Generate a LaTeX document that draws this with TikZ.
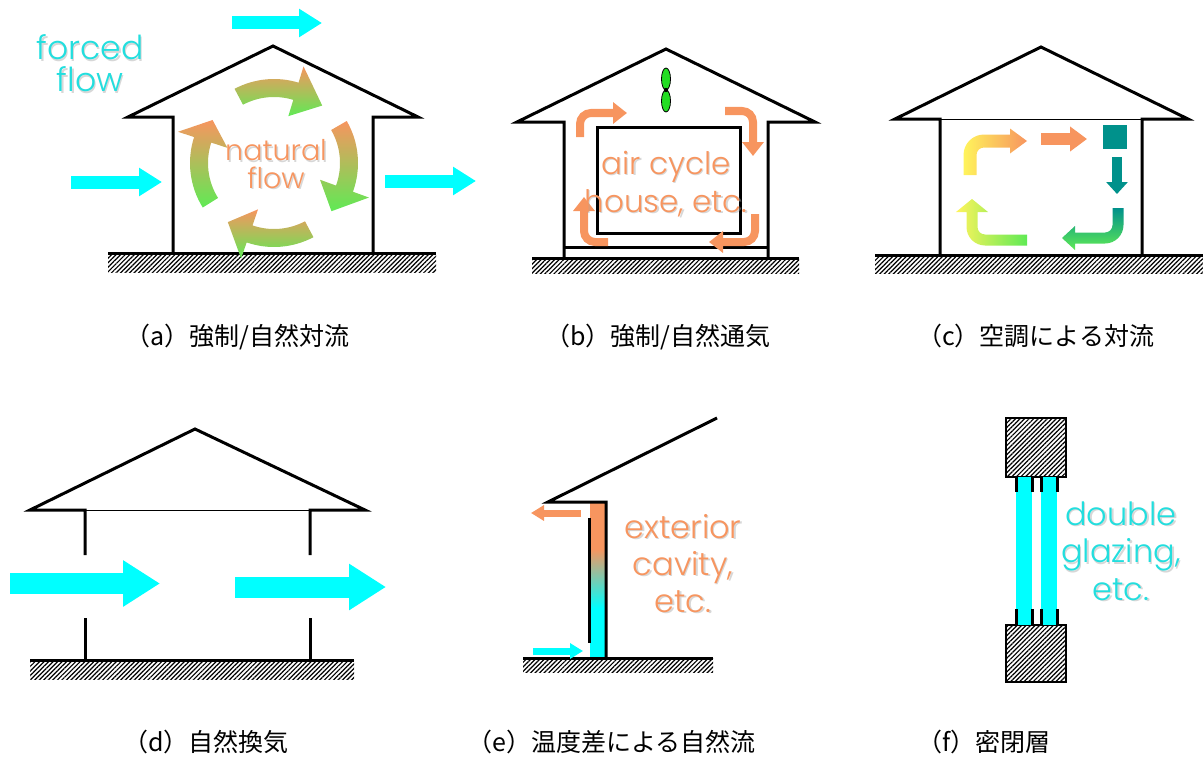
\documentclass[tikz,border=0pt]{standalone}
\usepackage{fontspec}
\newfontfamily\lat{Poppins Light}
\newfontfamily\jp{Noto Sans CJK JP}
\usetikzlibrary{arrows.meta,patterns.meta,calc}

% Couleurs des flux
\definecolor{flux}{HTML}{00FFFF}
\definecolor{fluxtxt}{HTML}{22DEDE}
\definecolor{chaud}{HTML}{F7955F}
\definecolor{tiede}{HTML}{C2D85E}
\definecolor{vert}{HTML}{5FEA55}
\definecolor{sarcelle}{HTML}{00918B}
\definecolor{jaune}{HTML}{FFF45C}
\definecolor{helice}{HTML}{22DD22}

% Dégradé de la lame d'air (du bas vers le haut)
\pgfdeclareverticalshading{cavite}{100bp}{color(0bp)=(flux); color(41bp)=(flux); color(60bp)=(chaud); color(100bp)=(chaud)}

% Sol hachuré : x1, x2, y haut, y bas
\newcommand{\terrain}[4]{%
  \fill[sol] (#1,-#3) rectangle (#2,-#4);
  \draw[mur] (#1,-#3) -- (#2,-#3);}

% Flèche courbe du tourbillon : queue, base de la pointe, pointe (angles)
\newcommand{\tourbillon}[3]{%
  \shade[top color=chaud, middle color=tiede, bottom color=vert]
    ([shift={(#1:84)}]tourb) arc[start angle=#1, end angle=#2, radius=84]
    -- ([shift={(#2:101)}]tourb) -- ([shift={(#3:75)}]tourb) -- ([shift={(#2:49)}]tourb)
    -- ([shift={(#2:66)}]tourb) arc[start angle=#2, end angle=#1, radius=66] -- cycle;}

% Texte avec ombre portée
\newcommand{\etiquette}[5][]{%
  \node[etiq, #1, text=black!35, opacity=.45, xshift=1.5pt, yshift=-1.5pt] at (#3) {#5};
  \node[etiq, #1, text=#4] (#2) at (#3) {#5};}

\begin{document}
\begin{tikzpicture}[
    x=1pt, y=1pt,
    mur/.style={line width=3pt, line join=miter},
    plafond/.style={line width=1pt},
    sol/.style={pattern={Lines[angle=45,distance=3.2pt,line width=1.2pt]}},
    flechebleue/.style={draw=flux, line width=13pt, -{Triangle[length=23pt,width=27pt]}},
    grossefleche/.style={draw=flux, line width=21pt, -{Triangle[length=37pt,width=44pt]}},
    circuit/.style={draw=chaud, line width=8pt, rounded corners=11pt, -{Triangle[length=14pt,width=21pt]}},
    petitefleche/.style={line width=7pt, -{Triangle[length=13pt,width=15pt]}},
    legende/.style={font=\jp\fontsize{25}{25}\selectfont, anchor=base west, inner sep=0pt},
    etiq/.style={font=\lat, align=center, anchor=base, inner sep=0pt} % base = dernière ligne
]
\useasboundingbox (0,0) rectangle (1203,-760);

% (a) convection forcée / naturelle
\draw[mur] (173,-253) -- (173,-117) -- (128,-117) -- (273,-46) -- (418,-117) -- (373,-117) -- (373,-253);
\terrain{108}{436}{253}{272}
\draw[flechebleue] (232,-23) -- (322,-23);
\draw[flechebleue] (71,-182) -- (162,-182);
\draw[flechebleue] (385,-181) -- (476,-181);
\coordinate (tourb) at (274,-163);
\tourbillon{118}{73}{50}
\tourbillon{30}{-20}{-40}
\tourbillon{-62}{-109}{-128}
\tourbillon{-148}{-198}{-215}
\etiquette[font=\lat\fontsize{33}{32}\selectfont]{force}{90,-92}{fluxtxt}{forced\\flow}
\etiquette[font=\lat\fontsize{28.5}{27.5}\selectfont]{naturel}{276,-188}{chaud}{natural\\flow}

% (b) ventilation forcée / naturelle
\draw[mur] (564,-258) -- (564,-122) -- (517,-122) -- (666,-49) -- (815,-122) -- (768,-122) -- (768,-258);
\draw[mur] (564,-247) -- (768,-247);
\draw[mur] (597,-127) rectangle (740,-233);
\terrain{532}{799}{258}{273}
\draw[fill=helice, line width=.8pt] (666,-79) ellipse[x radius=4.5, y radius=11];
\draw[fill=helice, line width=.8pt] (666,-101) ellipse[x radius=4.5, y radius=11];
\fill (666,-90) circle[radius=2.2];
\draw[circuit] (580,-137) |- (627,-113);
\draw[circuit] (725,-111) -| (753,-156);
\draw[circuit] (755,-214) |- (709,-242);
\draw[circuit] (608,-242) -| (584,-197);
\etiquette[font=\lat\fontsize{31}{38}\selectfont]{aircycle}{666,-212}{chaud}{air cycle\\house, etc.}

% (c) convection par climatisation
\draw[mur] (940,-255) -- (940,-119) -- (895,-119) -- (1041,-47) -- (1188,-119) -- (1142,-119) -- (1142,-255);
\draw[plafond] (940,-119) -- (1142,-119);
\terrain{875}{1203}{255}{273}
\shade[left color=jaune, right color=chaud]
  (963.5,-175) -- (963.5,-155) arc[start angle=180, end angle=90, radius=20.5]
  -- (1010,-134.5) -- (1010,-128.5) -- (1027,-141) -- (1010,-153.5) -- (1010,-147.5)
  -- (984,-147.5) arc[start angle=90, end angle=180, radius=7.5] -- (976.5,-175) -- cycle;
\draw[chaud, line width=12pt, -{Triangle[length=17pt,width=24pt]}] (1041,-139) -- (1087,-139);
\fill[sarcelle] (1103,-125) rectangle (1127,-149);
\draw[sarcelle, line width=10pt, -{Triangle[length=12pt,width=21pt]}] (1117,-157) -- (1117,-194);
\shade[top color=sarcelle, bottom color=vert]
  (1123.5,-208) -- (1123.5,-225) arc[start angle=0, end angle=-90, radius=18.5]
  -- (1075,-243.5) -- (1075,-250) -- (1062,-238) -- (1075,-226) -- (1075,-232.5)
  -- (1105,-232.5) arc[start angle=-90, end angle=0, radius=7.5] -- (1112.5,-208) -- cycle;
\shade[left color=jaune, right color=vert]
  (1027,-245.5) -- (985,-245.5) arc[start angle=-90, end angle=-180, radius=18.5]
  -- (966.5,-212) -- (956,-212) -- (972,-199) -- (988,-212) -- (977.5,-212)
  -- (977.5,-227) arc[start angle=180, end angle=270, radius=7.5] -- (1027,-234.5) -- cycle;

% (d) ventilation naturelle
\draw[mur] (85,-555) -- (85,-510) -- (30,-510) -- (195,-429) -- (365,-510) -- (310,-510) -- (310,-555);
\draw[plafond] (85,-510) -- (310,-510);
\draw[mur] (85,-618) -- (85,-660);
\draw[mur] (310,-618) -- (310,-660);
\terrain{30}{354}{660}{679}
\draw[grossefleche] (10,-583.5) -- (160,-583.5);
\draw[grossefleche] (235,-587) -- (386,-587);

% (e) lame d'air extérieure
\shade[shading=cavite] (590,-502) rectangle (606,-658);
\draw[mur] (717,-418) -- (548,-502) -- (606,-502) -- (606,-658);
\draw[mur] (589,-518) -- (589,-643);
\terrain{523}{713}{658}{672}
\draw[petitefleche, draw=chaud] (581,-513) -- (531,-513);
\draw[petitefleche, draw=flux] (533,-651) -- (583,-651);
\etiquette[font=\lat\fontsize{32}{37}\selectfont]{cavite}{683,-612}{chaud}{exterior\\cavity,\\etc.}

% (f) double vitrage
\fill[sol] (1006,-418) rectangle (1066,-477);
\draw[line width=2pt] (1006,-418) rectangle (1066,-477);
\fill[sol] (1006,-625) rectangle (1066,-682);
\draw[line width=2pt] (1006,-625) rectangle (1066,-682);
\fill[flux] (1016,-477) rectangle (1032,-625);
\fill[flux] (1041,-477) rectangle (1057,-625);
\foreach \x in {1016,1032,1041,1057} {
  \draw[line width=3pt] (\x,-477) -- (\x,-492);
  \draw[line width=3pt] (\x,-609) -- (\x,-625);
}
\etiquette[font=\lat\fontsize{32}{37.5}\selectfont]{vitrage}{1121,-600}{fluxtxt}{double\\glazing,\\etc.}

% Légendes
\node[legende] (capa) at (125,-345.5) {（a）強制/自然対流};
\node[legende] (capb) at (545,-345.5) {（b）強制/自然通気};
\node[legende] (capc) at (917,-345.5) {（c）空調による対流};
\node[legende] (capd) at (123,-751.5) {（d）自然換気};
\node[legende] (cape) at (467,-751.5) {（e）温度差による自然流};
\node[legende] (capf) at (917,-751.5) {（f）密閉層};
\end{tikzpicture}
\end{document}
